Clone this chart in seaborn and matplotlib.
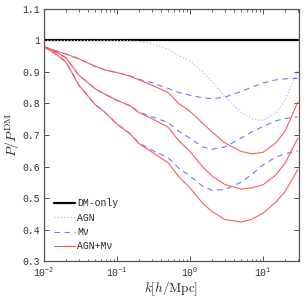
import numpy as np
import pandas as pd
import matplotlib
matplotlib.use("Agg")
import matplotlib.pyplot as plt
import matplotlib.ticker as mticker
import seaborn as sns

# ---- data ----
k = [0.01, 0.015, 0.02, 0.03, 0.05, 0.07, 0.1, 0.15, 0.2, 0.3, 0.5, 0.7,
     1.0, 1.5, 2.0, 3.0, 5.0, 7.0, 10.0, 15.0, 20.0, 30.0]

dm_only = [1.0] * len(k)

agn = [1.0, 1.0, 1.0, 1.0, 1.0, 1.0, 1.0, 0.999, 0.997, 0.99, 0.972, 0.952,
       0.935, 0.90, 0.87, 0.822, 0.772, 0.752, 0.746, 0.77, 0.81, 0.905]

mnu_1 = [0.98, 0.966, 0.957, 0.942, 0.918, 0.906, 0.898, 0.888, 0.877, 0.866,
         0.848, 0.835, 0.826, 0.818, 0.815, 0.82, 0.838, 0.852, 0.865, 0.875,
         0.878, 0.88]
mnu_2 = [0.98, 0.962, 0.945, 0.89, 0.847, 0.828, 0.81, 0.793, 0.773, 0.758,
         0.74, 0.712, 0.69, 0.662, 0.655, 0.662, 0.69, 0.71, 0.727, 0.745,
         0.752, 0.758]
mnu_3 = [0.98, 0.955, 0.932, 0.858, 0.797, 0.77, 0.735, 0.705, 0.675, 0.652,
         0.628, 0.595, 0.57, 0.537, 0.525, 0.527, 0.55, 0.575, 0.605, 0.63,
         0.64, 0.65]

agn_mnu_1 = [0.98, 0.966, 0.957, 0.942, 0.918, 0.906, 0.898, 0.887, 0.875, 0.858,
             0.835, 0.80, 0.775, 0.737, 0.71, 0.675, 0.648, 0.64, 0.645, 0.675,
             0.712, 0.805]
agn_mnu_2 = [0.98, 0.962, 0.945, 0.89, 0.847, 0.828, 0.81, 0.793, 0.771, 0.752,
             0.725, 0.682, 0.648, 0.598, 0.57, 0.543, 0.528, 0.532, 0.542, 0.573,
             0.61, 0.69]
agn_mnu_3 = [0.98, 0.955, 0.932, 0.858, 0.797, 0.77, 0.735, 0.704, 0.673, 0.646,
             0.612, 0.568, 0.532, 0.483, 0.457, 0.432, 0.424, 0.432, 0.452, 0.487,
             0.52, 0.59]

labels = ["DM-only", "AGN", "M\u03bd", "AGN+M\u03bd"]
yticks = [0.3, 0.4, 0.5, 0.6, 0.7, 0.8, 0.9, 1.0, 1.1]

sns.set_theme(style="ticks")
plt.rcParams["font.family"] = ["Liberation Mono", "DejaVu Sans"]
plt.rcParams["mathtext.fontset"] = "custom"
plt.rcParams["mathtext.rm"] = "Liberation Mono"
plt.rcParams["mathtext.it"] = "Liberation Mono"
plt.rcParams["mathtext.bf"] = "Liberation Mono"

fig = plt.figure(figsize=(3.05, 2.98), dpi=100)
ax = fig.add_axes([0.144, 0.124, 0.836, 0.846])

c_dm = "black"
c_agn = "#e3a6f0"
c_mnu = "#6a7cff"
c_both = "#ff5a5a"

def draw(y, color, ls, lw, label=None):
    df = pd.DataFrame({"k": k, "r": y})
    sns.lineplot(data=df, x="k", y="r", ax=ax, color=color, linestyle=ls,
                 linewidth=lw, label=label, estimator=None, sort=False)

draw(dm_only, c_dm, "-", 1.6, labels[0])
draw(agn, c_agn, ":", 0.9, labels[1])
draw(mnu_1, c_mnu, (0, (5, 4)), 0.8, labels[2])
draw(mnu_2, c_mnu, (0, (5, 4)), 0.8)
draw(mnu_3, c_mnu, (0, (5, 4)), 0.8)
draw(agn_mnu_1, c_both, "-", 0.8, labels[3])
draw(agn_mnu_2, c_both, "-", 0.8)
draw(agn_mnu_3, c_both, "-", 0.8)

ax.set_xscale("log")
ax.set_xlim(0.01, 31)
ax.set_ylim(0.3, 1.1)
ax.set_yticks(yticks)
ax.yaxis.set_major_formatter(mticker.FuncFormatter(lambda v, p: "%g" % round(v, 2)))
ax.xaxis.set_major_locator(mticker.LogLocator(base=10))
ax.xaxis.set_major_formatter(mticker.LogFormatterSciNotation())
ax.xaxis.set_minor_locator(mticker.LogLocator(base=10, subs=np.arange(2, 10)))
ax.xaxis.set_minor_formatter(mticker.NullFormatter())

ax.tick_params(which="both", direction="in", top=True, right=True,
               labelsize=7, colors="#333333", labelcolor="#333333")
ax.tick_params(which="major", length=3.5, width=0.6)
ax.tick_params(which="minor", length=1.8, width=0.5)
ax.tick_params(axis="x", which="major", pad=3.5)
ax.tick_params(axis="y", which="major", pad=3)
for s in ax.spines.values():
    s.set_color("#555555")
    s.set_linewidth(0.9)

ax.set_xlabel(r"$k[h/{\rm Mpc}]$", fontsize=9.5, math_fontfamily="cm", labelpad=0.5)
ax.set_ylabel(r"$P/P^{\rm DM}$", fontsize=10, math_fontfamily="cm", labelpad=0)

leg = ax.legend(loc="lower left", bbox_to_anchor=(0.0, 0.0), frameon=False,
                fontsize=7, handlelength=2.2, handletextpad=0.2,
                labelspacing=0.45, borderaxespad=0.6)

fig.savefig("out.png", dpi=100)
